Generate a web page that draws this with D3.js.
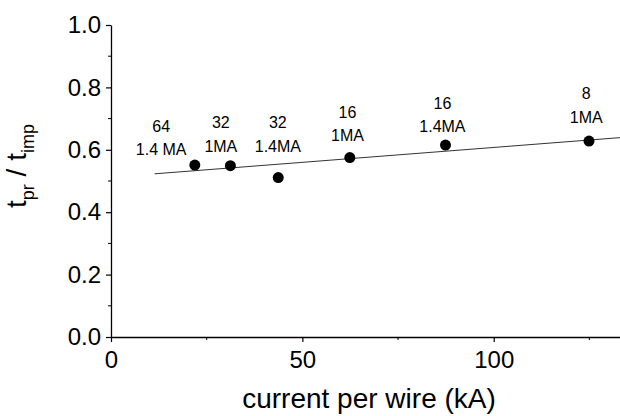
<!DOCTYPE html>
<html>
<head>
<meta charset="utf-8">
<script src="https://cdn.jsdelivr.net/npm/d3@7"></script>
<style>
  html, body { margin: 0; padding: 0; background: #fff; }
  svg { display: block; font-family: "Liberation Sans", Arial, sans-serif; }
</style>
</head>
<body>
<svg id="chart" width="620" height="416"></svg>
<script>
// ---- data ----
const currentPerWire = [21.9, 31.2, 43.7, 62.4, 87.4, 124.9];   // kA
const ratio          = [0.551, 0.549, 0.511, 0.575, 0.615, 0.628];
const wireCounts     = ["64", "32", "32", "16", "16", "8"];
const peakCurrents   = ["1.4 MA", "1MA", "1.4MA", "1MA", "1.4MA", "1MA"];
const labelX         = [13.1, 28.7, 43.6, 61.8, 86.6, 124.2];
const labelY         = [0.583, 0.593, 0.593, 0.628, 0.657, 0.686];
const fitX           = [11.4, 133];
const fitY           = [0.523, 0.639];
const xTicks         = [0, 50, 100];
const xMinorTicks    = [25, 75, 125];
const yTicks         = [0, 0.2, 0.4, 0.6, 0.8, 1.0];
const yMinorTicks    = [0.1, 0.3, 0.5, 0.7, 0.9];

// ---- layout ----
const svg = d3.select("#chart");
const x = d3.scaleLinear().domain([0, 133]).range([111, 620]);
const y = d3.scaleLinear().domain([0, 1]).range([337, 25]);

// axes
const xAxis = svg.append("g").attr("transform", `translate(0,${y(0)})`);
xAxis.call(d3.axisBottom(x).tickValues(xTicks).tickFormat(d3.format("d"))
  .tickSizeInner(5).tickSizeOuter(0).tickPadding(9));
xAxis.append("g").selectAll("line").data(xMinorTicks).join("line")
  .attr("x1", d => x(d)).attr("x2", d => x(d)).attr("y1", 0).attr("y2", 3)
  .attr("stroke", "#000");

const yAxis = svg.append("g").attr("transform", `translate(${x(0)},0)`);
yAxis.call(d3.axisLeft(y).tickValues(yTicks).tickFormat(d3.format(".1f"))
  .tickSizeInner(5).tickSizeOuter(0).tickPadding(5));
yAxis.append("g").selectAll("line").data(yMinorTicks).join("line")
  .attr("y1", d => y(d)).attr("y2", d => y(d)).attr("x1", 0).attr("x2", -3)
  .attr("stroke", "#000");

[xAxis, yAxis].forEach(g => {
  g.select(".domain").attr("stroke", "#000").attr("stroke-width", 1.3);
  g.selectAll(".tick line").attr("stroke", "#000").attr("stroke-width", 1.2);
  g.selectAll(".tick text").attr("fill", "#000")
    .style("font-size", "24px").style("font-family", "'Liberation Sans', Arial, sans-serif");
});

// fit line
svg.append("line")
  .attr("x1", x(fitX[0])).attr("y1", y(fitY[0]))
  .attr("x2", x(fitX[1])).attr("y2", y(fitY[1]))
  .attr("stroke", "#333").attr("stroke-width", 1);

// points
svg.append("g").selectAll("circle").data(currentPerWire).join("circle")
  .attr("cx", d => x(d)).attr("cy", (d, i) => y(ratio[i]))
  .attr("r", 5.5).attr("fill", "#000");

// annotations
const ann = svg.append("g").style("font-size", "16px").attr("text-anchor", "middle").attr("fill", "#000");
wireCounts.forEach((w, i) => {
  ann.append("text").attr("x", x(labelX[i])).attr("y", y(labelY[i]) - 23.5).text(w);
  ann.append("text").attr("x", x(labelX[i])).attr("y", y(labelY[i])).text(peakCurrents[i]);
});

// axis titles
svg.append("text").attr("x", 369).attr("y", 408).attr("text-anchor", "middle")
  .style("font-size", "28px").text("current per wire (kA)");

const yt = svg.append("text").attr("transform", "translate(26,166) rotate(-90)")
  .attr("text-anchor", "middle").style("font-size", "28px");
yt.append("tspan").text("t");
yt.append("tspan").attr("dy", 8).style("font-size", "18px").text("pr");
yt.append("tspan").attr("dy", -8).text(" / t");
yt.append("tspan").attr("dy", 8).style("font-size", "18px").text("imp");
</script>
</body>
</html>
